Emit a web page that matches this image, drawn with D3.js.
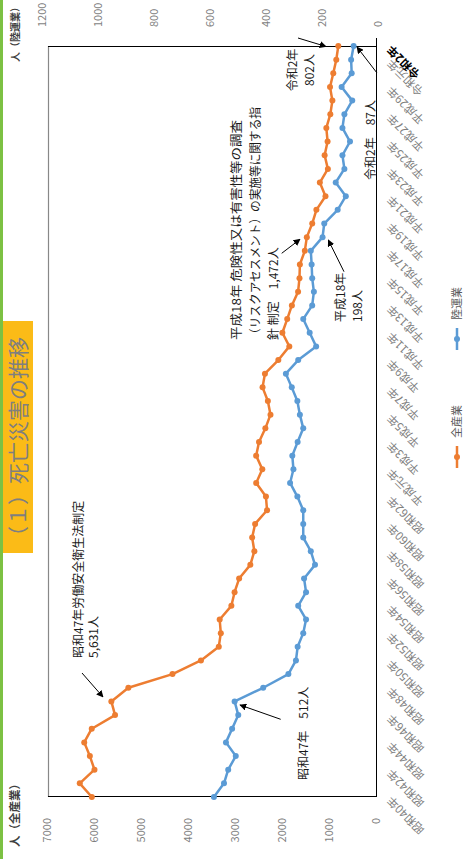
<!DOCTYPE html>
<html>
<head>
<meta charset="utf-8">
<script src="https://cdn.jsdelivr.net/npm/d3@7"></script>
<style>
  body { margin: 0; background: #fff; }
  svg { display: block; }
  text { font-family: "Noto Sans CJK JP", "Noto Sans", sans-serif; }
</style>
</head>
<body>
<svg id="chart" width="464" height="859"></svg>
<script>
// categories
const years = [1965, 1966, 1967, 1968, 1969, 1970, 1971, 1972, 1973, 1974,
  1975, 1976, 1977, 1978, 1979, 1980, 1981, 1982, 1983, 1984,
  1985, 1986, 1987, 1988, 1989, 1990, 1991, 1992, 1993, 1994,
  1995, 1996, 1997, 1998, 1999, 2000, 2001, 2002, 2003, 2004,
  2005, 2006, 2007, 2008, 2009, 2010, 2011, 2012, 2013, 2014,
  2015, 2016, 2017, 2018, 2019, 2020]

const tickYears = [1965, 1967, 1969, 1971, 1973, 1975, 1977, 1979, 1981, 1983,
  1985, 1987, 1989, 1991, 1993, 1995, 1997, 1999, 2001, 2003,
  2005, 2007, 2009, 2011, 2013, 2015, 2017, 2019, 2020]
const tickLabels = ['昭和40年', '昭和42年', '昭和44年', '昭和46年', '昭和48年', '昭和50年',
  '昭和52年', '昭和54年', '昭和56年', '昭和58年', '昭和60年', '昭和62年', '平成元年',
  '平成3年', '平成5年', '平成7年', '平成9年', '平成11年', '平成13年', '平成15年',
  '平成17年', '平成19年', '平成21年', '平成23年', '平成25年', '平成27年', '平成29年',
  '令和元年', '令和2年']

// series
const allIndustry = [6046, 6303, 5990, 6088, 6208, 6048, 5552, 5631, 5269, 4330,
  3725, 3345, 3302, 3326, 3077, 3009, 2912, 2674, 2588, 2635,
  2572, 2318, 2342, 2549, 2419, 2550, 2489, 2354, 2245, 2301,
  2414, 2363, 2078, 1844, 1992, 1889, 1790, 1658, 1628, 1620,
  1514, 1472, 1357, 1268, 1075, 1195, 1024, 1093, 1030, 1057,
  972, 928, 978, 909, 845, 802]
const landTransport = [586, 550, 535, 508, 543, 521, 499, 512, 410, 320,
  293, 287, 267, 257, 285, 257, 264, 225, 240, 267,
  267, 267, 288, 314, 302, 306, 287, 267, 279, 288,
  308, 329, 285, 221, 244, 267, 235, 229, 235, 237,
  240, 198, 192, 144, 115, 151, 120, 127, 100, 127,
  120, 92, 130, 94, 96, 87]

const allTicks = [0, 1000, 2000, 3000, 4000, 5000, 6000, 7000]
const landTicks = [0, 200, 400, 600, 800, 1000, 1200]

const orange = '#ed7d31'
const blue = '#5b9bd5'
const gray = '#7f7f7f'

const svg = d3.select('#chart')

// the whole chart is laid out landscape, then turned a quarter to the left
const g = svg.append('g').attr('transform', 'translate(0,859) rotate(-90)')

const u = d3.scalePoint().domain(years).range([62, 813])
const vAll = d3.scaleLinear().domain([0, 7000]).range([376, 47])
const vLand = d3.scaleLinear().domain([0, 1200]).range([378, 42])

const defs = svg.append('defs')
defs.append('marker')
  .attr('id', 'arrow')
  .attr('viewBox', '0 0 10 10')
  .attr('refX', 9).attr('refY', 5)
  .attr('markerWidth', 7).attr('markerHeight', 7)
  .attr('markerUnits', 'userSpaceOnUse')
  .attr('orient', 'auto')
  .append('path').attr('d', 'M0,0 L10,5 L0,10 z').attr('fill', '#000')

// green strip + title box
g.append('rect').attr('x', 0).attr('y', 0).attr('width', 859).attr('height', 3).attr('fill', '#7cc143')
g.append('rect').attr('x', 306).attr('y', 3).attr('width', 232).attr('height', 30).attr('fill', '#fbbb17')
g.append('text').attr('x', 312).attr('y', 26)
  .attr('font-size', 21).attr('fill', gray)
  .text('（１）死亡災害の推移')

// plot frame
g.append('line').attr('x1', 62).attr('x2', 813).attr('y1', 48.5).attr('y2', 48.5)
  .attr('stroke', '#888').attr('stroke-width', 1.2)
g.append('line').attr('x1', 62.5).attr('x2', 62.5).attr('y1', 48).attr('y2', 377)
  .attr('stroke', '#000').attr('stroke-width', 1)
g.append('line').attr('x1', 812.5).attr('x2', 812.5).attr('y1', 48).attr('y2', 377)
  .attr('stroke', '#000').attr('stroke-width', 1)
g.append('line').attr('x1', 62).attr('x2', 821).attr('y1', 376.5).attr('y2', 376.5)
  .attr('stroke', '#000').attr('stroke-width', 1)

// value axes
const leftAxis = g.append('g').attr('transform', 'translate(62,0)')
  .call(d3.axisLeft(vAll).tickValues(allTicks).tickSize(0).tickPadding(21).tickFormat(d3.format('d')))
const rightAxis = g.append('g').attr('transform', 'translate(813,0)')
  .call(d3.axisRight(vLand).tickValues(landTicks).tickSize(0).tickPadding(19).tickFormat(d3.format('d')))
;[leftAxis, rightAxis].forEach(ax => {
  ax.select('.domain').remove()
  ax.selectAll('text').attr('font-size', 11).attr('fill', gray)
    .attr('font-family', '"Noto Sans CJK JP", sans-serif')
})

g.append('text').attr('x', 12).attr('y', 19)
  .attr('font-size', 11.5).attr('font-weight', 'bold').attr('fill', '#404040')
  .text('人（全産業）')
g.append('text').attr('x', 797).attr('y', 19)
  .attr('font-size', 10).attr('font-weight', 'bold').attr('fill', '#404040')
  .text('人（陸運業）')

// year axis
const yearAxis = g.append('g').attr('transform', 'translate(0,376)')
  .call(d3.axisBottom(u).tickValues(tickYears).tickSize(0)
    .tickFormat(d => tickLabels[tickYears.indexOf(d)]))
yearAxis.select('.domain').remove()
yearAxis.selectAll('text')
  .attr('x', 0).attr('y', 0).attr('dy', '0.35em')
  .attr('transform', 'translate(-2,13) rotate(-45)')
  .attr('text-anchor', 'end')
  .attr('font-size', 11.5)
  .attr('font-family', '"Noto Sans CJK JP", sans-serif')
  .attr('fill', d => d === 2020 ? '#000' : gray)
  .attr('font-weight', d => d === 2020 ? 'bold' : 'normal')

// series
const series = [
  { name: '全産業', values: allIndustry, scale: vAll, color: orange },
  { name: '陸運業', values: landTransport, scale: vLand, color: blue }
]
series.forEach(s => {
  const pts = years.map((y, i) => [u(y), s.scale(s.values[i])])
  g.append('path').attr('d', d3.line()(pts))
    .attr('fill', 'none').attr('stroke', s.color).attr('stroke-width', 2.5)
    .attr('stroke-linejoin', 'round')
  g.selectAll(null).data(pts).join('circle')
    .attr('cx', d => d[0]).attr('cy', d => d[1]).attr('r', 3)
    .attr('fill', s.color)
})

// legend
const legend = [
  { name: '全産業', color: orange, u: 391 },
  { name: '陸運業', color: blue, u: 509 }
]
legend.forEach(l => {
  g.append('line').attr('x1', l.u).attr('x2', l.u + 22).attr('y1', 457).attr('y2', 457)
    .attr('stroke', l.color).attr('stroke-width', 2.5)
  g.append('circle').attr('cx', l.u + 11).attr('cy', 457).attr('r', 3).attr('fill', l.color)
  g.append('text').attr('x', l.u + 30).attr('y', 461)
    .attr('font-size', 11).attr('fill', '#595959').text(l.name)
})

// annotations
const notes = [
  { x: 201, lines: [[83, '昭和47年労働安全衛生法制定'], [98, '5,631人']] },
  { x: 79, lines: [[308, '昭和47年　512人']] },
  { x: 519, lines: [[241, '平成18年 危険性又は有害性等の調査', 220],
    [260, '（リスクアセスメント）の実施等に関する指', 233], [278, '針 制定　1,472人']] },
  { x: 537, lines: [[345, '平成18年'], [362, '198人']] },
  { x: 789, anchor: 'middle', lines: [[297, '令和2年'], [314, '802人']] },
  { x: 679, lines: [[375, '令和2年　87人']] }
]
notes.forEach(n => {
  n.lines.forEach(([y, t, len]) => {
    const txt = g.append('text').attr('x', n.x).attr('y', y)
      .attr('font-size', 12).attr('fill', '#1a1a1a')
      .attr('text-anchor', n.anchor || 'start').text(t)
    if (len) txt.attr('textLength', len).attr('lengthAdjust', 'spacingAndGlyphs')
  })
})

const arrows = [
  [186, 82, 162, 103],
  [139.7, 280.7, 154, 240],
  [605.7, 281.7, 619.7, 300],
  [587.3, 344, 619, 328.3],
  [821, 298, 812.5, 326],
  [786, 377, 812, 357]
]
arrows.forEach(a => {
  g.append('line').attr('x1', a[0]).attr('y1', a[1]).attr('x2', a[2]).attr('y2', a[3])
    .attr('stroke', '#000').attr('stroke-width', 1)
    .attr('marker-end', 'url(#arrow)')
})
</script>
</body>
</html>
